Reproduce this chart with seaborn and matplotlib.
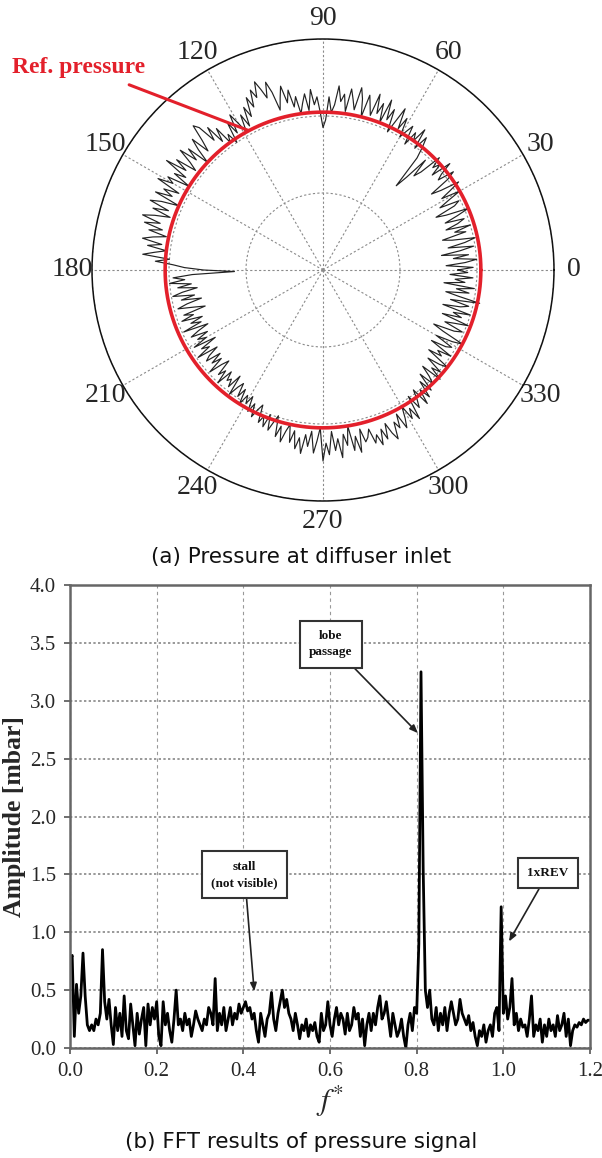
import numpy as np
import matplotlib
matplotlib.use("Agg")
import matplotlib.pyplot as plt
import seaborn as sns

# ---------------- data ----------------
# (a) polar pressure trace, one value per degree starting at 0 deg
angle_step_deg = 1
pressure_r = [
    1.75, 1.95, 1.60, 1.85, 2.00, 1.70, 1.90, 1.55, 1.80, 1.98,   # 0-9
    1.65, 1.88, 2.02, 1.72, 1.60, 1.92, 1.78, 2.00, 1.68, 1.85,   # 10-19
    1.95, 1.70, 1.88, 2.05, 1.75, 1.62, 1.90, 1.98, 1.72, 1.86,   # 20-29
    2.05, 1.80, 1.95, 2.10, 1.85, 1.72, 2.00, 2.12, 1.90, 1.98,   # 30-39
    2.15, 1.88, 2.05, 1.95, 2.10, 1.80, 1.70, 1.95, 1.62, 1.45,   # 40-49
    1.90, 2.05, 2.18, 1.98, 2.25, 2.05, 2.15, 1.95, 2.20, 2.10,   # 50-59
    2.00, 2.25, 2.08, 2.35, 2.15, 1.98, 2.28, 2.12, 2.38, 2.05,   # 60-69
    2.30, 2.15, 2.40, 2.10, 2.22, 2.35, 2.05, 2.28, 2.42, 2.12,   # 70-79
    2.25, 2.38, 2.08, 2.30, 2.20, 2.40, 2.15, 2.05, 2.25, 1.95,   # 80-89
    1.85, 2.05, 2.25, 2.15, 2.35, 2.08, 2.30, 2.18, 2.05, 2.28,   # 90-99
    2.15, 2.38, 2.22, 2.45, 2.30, 2.15, 2.40, 2.55, 2.35, 2.48,   # 100-109
    2.60, 2.40, 2.52, 2.30, 2.45, 2.20, 2.35, 2.10, 2.28, 2.05,   # 110-119
    2.20, 2.35, 2.10, 2.28, 2.00, 2.15, 2.05, 2.30, 2.12, 2.38,   # 120-129
    2.20, 2.45, 2.52, 2.30, 2.15, 2.40, 2.25, 2.05, 2.35, 2.18,   # 130-139
    2.42, 2.22, 2.10, 2.38, 2.20, 2.48, 2.15, 2.30, 2.05, 2.35,   # 140-149
    2.25, 2.45, 2.12, 2.32, 2.18, 2.40, 2.05, 2.28, 2.42, 2.15,   # 150-159
    2.35, 2.10, 2.30, 2.45, 2.20, 2.40, 2.15, 2.32, 2.08, 2.25,   # 160-169
    2.38, 2.12, 2.30, 2.05, 2.20, 2.35, 2.00, 2.18, 1.95, 1.80,   # 170-179
    1.55, 1.15, 1.70, 1.95, 1.80, 2.00, 1.72, 1.90, 1.65, 1.85,   # 180-189
    1.98, 1.70, 1.88, 1.62, 1.82, 1.95, 1.75, 1.60, 1.90, 1.78,   # 190-199
    1.95, 1.68, 1.85, 1.72, 1.98, 1.65, 1.80, 1.92, 1.70, 1.86,   # 200-209
    1.75, 1.95, 1.65, 1.88, 1.78, 1.98, 1.70, 1.85, 1.92, 1.72,   # 210-219
    1.88, 1.75, 1.98, 1.80, 1.70, 1.92, 1.82, 2.00, 1.78, 1.90,   # 220-229
    1.85, 1.95, 1.75, 2.02, 1.88, 1.80, 1.98, 1.85, 2.05, 1.90,   # 230-239
    2.00, 1.88, 2.08, 1.95, 2.12, 2.00, 1.92, 2.15, 2.05, 2.18,   # 240-249
    2.00, 2.20, 2.08, 1.98, 2.25, 2.10, 2.30, 2.15, 2.05, 2.28,   # 250-259
    2.12, 2.35, 2.20, 2.40, 2.15, 2.30, 2.10, 2.38, 2.22, 2.05,   # 260-269
    2.48, 2.25, 2.40, 2.10, 2.35, 2.20, 2.45, 2.15, 2.30, 2.05,   # 270-279
    2.38, 2.20, 2.42, 2.12, 2.30, 2.25, 2.15, 2.35, 2.25, 2.40,   # 280-289
    2.20, 2.35, 2.15, 2.30, 2.40, 2.18, 2.28, 2.10, 2.32, 2.20,   # 290-299
    2.05, 2.25, 2.12, 2.30, 1.98, 2.18, 2.08, 1.95, 2.20, 2.00,   # 300-309
    2.15, 1.92, 2.10, 1.85, 2.05, 1.95, 1.80, 2.08, 1.90, 2.02,   # 310-319
    1.78, 1.95, 2.05, 1.72, 1.90, 1.82, 2.00, 1.68, 1.88, 1.95,   # 320-329
    1.70, 1.92, 2.05, 1.75, 1.60, 1.88, 1.98, 1.72, 1.85, 2.02,   # 330-339
    1.65, 1.90, 1.78, 2.00, 1.62, 1.85, 1.95, 1.70, 2.08, 1.80,   # 340-349
    1.62, 1.92, 1.75, 1.98, 1.58, 1.85, 1.72, 1.95, 1.65, 1.88,   # 350-359
]
ref_pressure = 2.05
r_max = 3.0
r_ticks = [1, 2, 3]
theta_tick_deg = [0, 30, 60, 90, 120, 150, 180, 210, 240, 270, 300, 330]
theta_tick_labels = ["0", "30", "60", "90", "120", "150", "180", "210", "240", "270", "300", "330"]

# (b) FFT amplitude, bins of 0.005 in f* from 0 to 1.2
f_step = 0.005
amplitude = [
    0.75, 0.80, 0.10, 0.55, 0.30, 0.45, 0.82, 0.45, 0.20, 0.15,   # 0.000-0.045
    0.20, 0.15, 0.25, 0.20, 0.30, 0.85, 0.40, 0.25, 0.42, 0.20,   # 0.050-0.095
    0.03, 0.35, 0.15, 0.30, 0.10, 0.45, 0.15, 0.08, 0.38, 0.20,   # 0.100-0.145
    0.02, 0.30, 0.12, 0.25, 0.35, 0.02, 0.38, 0.20, 0.35, 0.25,   # 0.150-0.195
    0.40, 0.10, 0.02, 0.40, 0.20, 0.30, 0.15, 0.05, 0.25, 0.50,   # 0.200-0.245
    0.20, 0.25, 0.15, 0.30, 0.20, 0.25, 0.10, 0.20, 0.32, 0.25,   # 0.250-0.295
    0.20, 0.15, 0.25, 0.20, 0.35, 0.30, 0.20, 0.60, 0.15, 0.30,   # 0.300-0.345
    0.20, 0.35, 0.15, 0.25, 0.35, 0.20, 0.30, 0.25, 0.38, 0.30,   # 0.350-0.395
    0.35, 0.40, 0.32, 0.35, 0.25, 0.30, 0.15, 0.05, 0.30, 0.20,   # 0.400-0.445
    0.10, 0.25, 0.30, 0.48, 0.25, 0.15, 0.30, 0.40, 0.50, 0.35,   # 0.450-0.495
    0.42, 0.30, 0.25, 0.15, 0.30, 0.20, 0.08, 0.20, 0.15, 0.25,   # 0.500-0.545
    0.10, 0.20, 0.15, 0.22, 0.10, 0.05, 0.30, 0.15, 0.20, 0.40,   # 0.550-0.595
    0.20, 0.10, 0.25, 0.35, 0.20, 0.30, 0.25, 0.12, 0.30, 0.15,   # 0.600-0.645
    0.20, 0.35, 0.25, 0.30, 0.10, 0.25, 0.02, 0.20, 0.30, 0.15,   # 0.650-0.695
    0.30, 0.20, 0.35, 0.45, 0.25, 0.30, 0.40, 0.25, 0.10, 0.30,   # 0.700-0.745
    0.20, 0.10, 0.15, 0.25, 0.10, 0.00, 0.20, 0.30, 0.15, 0.35,   # 0.750-0.795
    0.30, 0.90, 3.25, 1.55, 0.50, 0.35, 0.50, 0.25, 0.20, 0.35,   # 0.800-0.845
    0.15, 0.30, 0.20, 0.35, 0.15, 0.30, 0.40, 0.30, 0.20, 0.25,   # 0.850-0.895
    0.42, 0.30, 0.25, 0.20, 0.28, 0.15, 0.22, 0.10, 0.02, 0.15,   # 0.900-0.945
    0.10, 0.20, 0.05, 0.15, 0.20, 0.10, 0.30, 0.35, 0.15, 1.22,   # 0.950-0.995
    0.30, 0.45, 0.25, 0.35, 0.60, 0.20, 0.30, 0.15, 0.25, 0.18,   # 1.000-1.045
    0.20, 0.10, 0.25, 0.45, 0.10, 0.20, 0.15, 0.25, 0.05, 0.20,   # 1.050-1.095
    0.10, 0.25, 0.15, 0.20, 0.10, 0.28, 0.15, 0.20, 0.30, 0.10,   # 1.100-1.145
    0.25, 0.02, 0.15, 0.20, 0.18, 0.22, 0.20, 0.25, 0.22, 0.24,   # 1.150-1.195
    0.24,                                                         # 1.200
]
x_ticks = [0.0, 0.2, 0.4, 0.6, 0.8, 1.0, 1.2]
y_ticks = [0.0, 0.5, 1.0, 1.5, 2.0, 2.5, 3.0, 3.5, 4.0]

annot_lobe = ("lobe\npassage", (0.803, 2.72), (0.602, 3.49))
annot_stall = ("stall\n(not visible)", (0.425, 0.49), (0.403, 1.495))
annot_rev = ("1xREV", (1.013, 0.92), (1.103, 1.51))

# ---------------- style ----------------
sns.set_style("white")
plt.rcParams["font.family"] = ["Liberation Serif", "DejaVu Serif"]
plt.rcParams["mathtext.fontset"] = "stix"

W, H = 602, 1158
fig = plt.figure(figsize=(W / 100, H / 100), dpi=100)
fig.patch.set_facecolor("white")

RED = "#e3202b"

# ---------------- (a) polar ----------------
cx, cy, rad = 323, 270, 231
axp = fig.add_axes([(cx - rad) / W, 1 - (cy + rad) / H, 2 * rad / W, 2 * rad / H],
                   projection="polar")
theta = np.deg2rad(np.arange(len(pressure_r) + 1) * angle_step_deg)
r_closed = np.array(pressure_r + [pressure_r[0]])
sns.lineplot(x=theta, y=r_closed, ax=axp, sort=False, estimator=None,
             color="#222222", linewidth=0.85)
ref_theta = np.deg2rad(np.arange(0, 361, 1))
sns.lineplot(x=ref_theta, y=np.full(ref_theta.shape, ref_pressure), ax=axp,
             sort=False, estimator=None, color=RED, linewidth=2.6)
axp.set_ylim(0, r_max)
axp.set_yticks(r_ticks)
axp.set_yticklabels([])
axp.set_xticks(np.deg2rad(theta_tick_deg))
axp.set_xticklabels(theta_tick_labels, fontsize=20)
axp.tick_params(axis="x", pad=4)
axp.grid(True, color="#8a8a8a", linestyle=(0, (2, 2)), linewidth=0.8)
axp.spines["polar"].set_color("#111111")
axp.spines["polar"].set_linewidth(1.1)
axp.set_xlabel("")
axp.set_ylabel("")

axp.annotate("Ref. pressure", xy=(np.deg2rad(118), ref_pressure), xycoords="data",
             xytext=(12, H - 68), textcoords="figure pixels",
             ha="left", va="center", color=RED, fontsize=17, fontweight="bold",
             arrowprops=dict(arrowstyle="-", color=RED, lw=2.2,
                             shrinkA=0, shrinkB=0, relpos=(0.88, -0.3)))

fig.text(0.5, 1 - 557 / H, "(a) Pressure at diffuser inlet", ha="center", va="center",
         fontsize=15.5, family="DejaVu Sans", color="#111111")

# ---------------- (b) FFT ----------------
left, right, top, bottom = 70, 590, 585, 1048
axf = fig.add_axes([left / W, 1 - bottom / H, (right - left) / W, (bottom - top) / H])
freq = np.linspace(0.0, f_step * (len(amplitude) - 1), len(amplitude))
sns.lineplot(x=freq, y=amplitude, ax=axf, sort=False, estimator=None,
             color="black", linewidth=2.0)
axf.set_xlim(0, 1.2)
axf.set_ylim(0, 4.0)
axf.set_xticks(x_ticks)
axf.set_xticklabels([f"{v:.1f}" for v in x_ticks], fontsize=15)
axf.set_yticks(y_ticks)
axf.set_yticklabels([f"{v:.1f}" for v in y_ticks], fontsize=15)
axf.tick_params(axis="both", direction="out", length=4, width=1.2, color="#555555",
                pad=6, left=True, bottom=True)
axf.xaxis.grid(True, color="#999999", linestyle=(0, (3, 3)), linewidth=0.8)
axf.yaxis.grid(True, color="#999999", linestyle=(0, (1.2, 1.2)), linewidth=1.4)
for sp in axf.spines.values():
    sp.set_color("#666666")
    sp.set_linewidth(1.8)
axf.set_ylabel("Amplitude [mbar]", fontsize=18.5, fontweight="bold", labelpad=3)
axf.set_xlabel(r"$f^{*}$", fontsize=22, labelpad=2)

for txt, tip, box in (annot_lobe, annot_stall, annot_rev):
    axf.annotate(txt, xy=tip, xytext=box, xycoords="data", textcoords="data",
                 ha="center", va="center", fontsize=9.5, fontweight="bold",
                 linespacing=1.5, color="#111111",
                 bbox=dict(boxstyle="square,pad=0.7", fc="white", ec="#333333", lw=1.5),
                 arrowprops=dict(arrowstyle="-|>,head_length=0.5,head_width=0.2",
                                 color="#222222", lw=1.2, shrinkA=0, shrinkB=0))

fig.text(0.5, 1 - 1142 / H, "(b) FFT results of pressure signal", ha="center",
         va="center", fontsize=15.5, family="DejaVu Sans", color="#111111")

fig.savefig("out.png", dpi=100, facecolor="white")
